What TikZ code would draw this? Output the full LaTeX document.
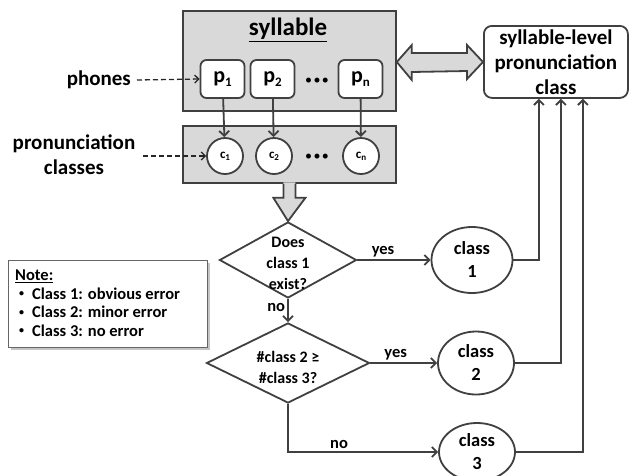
\documentclass[tikz,border=0pt]{standalone}
\usepackage{fontspec}
\setmainfont{Carlito}
\usetikzlibrary{arrows.meta,shapes.geometric,shadows,calc}
\definecolor{ink}{RGB}{64,64,64}
\definecolor{panel}{RGB}{217,217,217}
\newcommand\idx[2]{\raisebox{-0.35ex}{\fontsize{#2}{#2}\selectfont\bfseries #1}}
\newcommand\dotrow{{\fontsize{14}{14}\selectfont •\hspace{1.5pt}•\hspace{1.5pt}•}}
\newcommand\smallbullet{\hspace{4pt}\raisebox{0.35ex}{\fontsize{10}{10}\selectfont •}}
\begin{document}
\begin{tikzpicture}[x=1pt,y=-1pt,line join=miter,
  line/.style={draw=ink,line width=1.8pt},
  arr/.style={line,-{Straight Barb[length=5pt,width=10pt,line width=1.8pt]}},
  hint/.style={draw=black!85,line width=1.3pt,dash pattern=on 5pt off 3pt,
    -{Straight Barb[length=4pt,width=8pt,line width=1.3pt]}},
  panelbox/.style={draw=ink,fill=panel,line width=1.8pt,inner sep=0},
  phone/.style={draw=ink,fill=white,line width=1.8pt,rounded corners=6pt,
    minimum width=44,minimum height=38,inner sep=0,
    font=\fontsize{22}{22}\selectfont\bfseries},
  pclass/.style={circle,draw=ink,fill=white,line width=1.8pt,minimum size=36,
    inner sep=0,font=\fontsize{13}{13}\selectfont\bfseries},
  lbl/.style={align=center,inner sep=0,font=\fontsize{21}{25}\selectfont\bfseries},
  dots/.style={inner sep=0},
  decision/.style={diamond,draw=ink,fill=white,line width=1.8pt,inner sep=0},
  dtext/.style={align=center,inner sep=0,font=\fontsize{16}{21}\selectfont\bfseries},
  outcome/.style={ellipse,draw=ink,fill=white,line width=1.8pt,inner sep=0,
    align=center,font=\fontsize{18.5}{23}\selectfont\bfseries},
  small/.style={inner sep=2pt,font=\fontsize{16.5}{16.5}\selectfont\bfseries}]
\clip (0,0) rectangle (630,475);
\fill[white] (0,0) rectangle (630,475);

% syllable panel with its phones
\node[panelbox,minimum width=213,minimum height=100,anchor=north west] (syl) at (182,10) {};
\node[inner sep=0,font=\fontsize{25}{25}\selectfont\bfseries] (syltitle) at (288,30) {\underline{syllable}};
\node[phone] (p1) at (222.5,79) {p\idx{1}{13}};
\node[phone] (p2) at (272.5,79) {p\idx{2}{13}};
\node[dots] (pdots) at (317,81) {\dotrow};
\node[phone] (pn) at (360.5,79) {p\idx{n}{13}};

% pronunciation-class panel
\node[panelbox,minimum width=213,minimum height=57,anchor=north west] (pcl) at (182,125) {};
\node[pclass] (c1) at (225,156) {c\idx{1}{9}};
\node[pclass] (c2) at (274,156) {c\idx{2}{9}};
\node[dots] (cdots) at (317,157) {\dotrow};
\node[pclass] (cn) at (361,156) {c\idx{n}{9}};

\draw[arr] (p1) -- (c1);
\draw[arr] (p2) -- (c2);
\draw[arr] (pn) -- (cn);

% side labels
\node[lbl,anchor=east] (phones) at (131,80) {phones};
\node[lbl] (pclabel) at (74,155) {pronunciation\\classes};
\draw[hint] ([xshift=6]phones.east) -- (p1.west);
\draw[hint] (143,156) -- (c1.west);

% result box
\node[lbl,draw=ink,fill=white,line width=1.8pt,rounded corners=8pt,
  minimum width=144,minimum height=72,anchor=north west] (res) at (483,25)
  {syllable-level\\pronunciation\\class};

% double block arrow between the syllable panel and the result box
\coordinate (dl) at (syl.east |- 0,62);
\coordinate (dr) at (res.west |- 0,62);
\filldraw[fill=panel,line] (dl) -- ++(15,-17) -- ++(0,8) -- ($(dr)+(-16,-9)$)
  -- ++(0,-8) -- (dr) -- ++(-16,17) -- ++(0,-8) -- ($(dl)+(15,10)$)
  -- ++(0,8) -- cycle;

% decisions
\node[decision,minimum width=137,minimum height=76] (d1) at (288,260) {};
\node[dtext] (d1t) at (288,263) {Does\\class 1\\exist?};
\node[decision,minimum width=163,minimum height=80] (d2) at (288,363) {};
\node[dtext] (d2t) at (288,367) {\#class 2 ≥\\\#class 3?};

% block arrow from the class panel into the first decision
\coordinate (ds) at (pcl.south);
\fill[panel] ($(ds)+(-6,-1.5)$) -- ++(0,15.5) -- ++(-10,0) -- (d1.north)
  -- ($(ds)+(16,14)$) -- ++(-10,0) -- ++(0,-15.5) -- cycle;
\draw[line] ($(ds)+(-6,0)$) -- ++(0,14) -- ++(-10,0) -- (d1.north)
  -- ($(ds)+(16,14)$) -- ++(-10,0) -- ++(0,-14);

% outcomes
\node[outcome,minimum width=81,minimum height=66] (e1) at (472,260) {class\\1};
\node[outcome,minimum width=76,minimum height=63] (e2) at (476,363) {class\\2};
\node[outcome,minimum width=76,minimum height=58] (e3) at (477,452) {class\\3};

\draw[arr] (d1.east) -- node[small,above,pos=0.35] (y1) {yes} (e1.west);
\draw[arr] (d1.south) -- node[small,left,pos=0.35] (n1) {no} (d2.north);
\draw[arr] (d2.east) -- node[small,above,pos=0.38] (y2) {yes} (e2.west);
\draw[arr] (d2.south) |- node[small,above,pos=0.67] (n2) {no} (e3.west);

\draw[arr] (e1.east) -| ($(res.south)+(-17,0)$);
\draw[arr] (e2.east) -| ($(res.south)+(5,0)$);
\draw[arr] (e3.east) -| ($(res.south)+(27,0)$);

% legend
\node[draw=ink!80,line width=0.9pt,fill=white,
  drop shadow={shadow xshift=2.5pt,shadow yshift=-2.5pt,opacity=0.45},
  minimum width=199,minimum height=87,anchor=north west] (note) at (8,260) {};
\node[anchor=north west,inner sep=0,font=\fontsize{16.5}{19.5}\selectfont\bfseries]
  (notetext) at (15,267) {%
  \begin{tabular}{@{}l@{\hspace{8pt}}l@{}}
  \multicolumn{2}{@{}l}{\underline{Note:}}\\[-1pt]
  \smallbullet & Class 1: obvious error\\[-1pt]
  \smallbullet & Class 2: minor error\\[-1pt]
  \smallbullet & Class 3: no error
  \end{tabular}};
\end{tikzpicture}
\end{document}
